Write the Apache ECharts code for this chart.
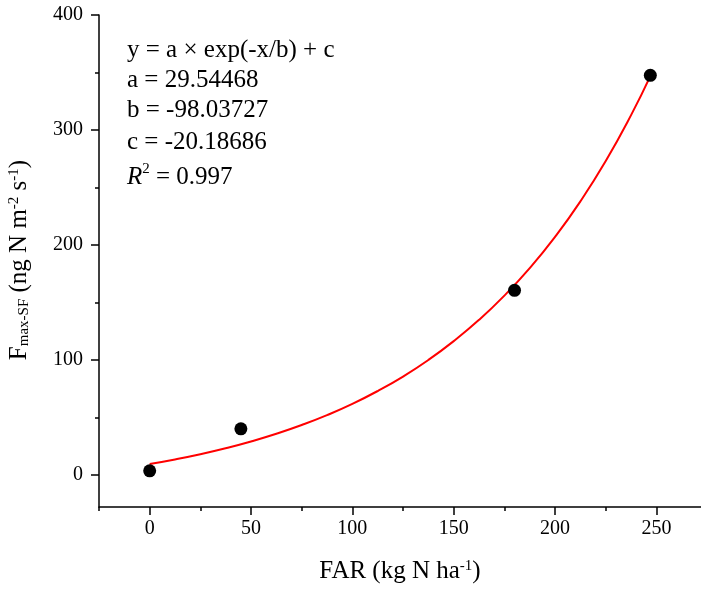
<!DOCTYPE html>
<html>
<head>
<meta charset="utf-8">
<script src="https://cdn.jsdelivr.net/npm/echarts@6/dist/echarts.min.js"></script>
<style>
  html, body { margin: 0; padding: 0; background: #fff; }
  #chart { width: 701px; height: 590px; }
</style>
</head>
<body>
<div id="chart"></div>
<script>
// tick positions
const xTicks = [0, 50, 100, 150, 200, 250];
const xMinorTicks = [-25, 25, 75, 125, 175, 225];
const yTicks = [0, 100, 200, 300, 400];
const yMinorTicks = [50, 150, 250, 350];

// measured points
const obsX = [0, 45, 180, 247];
const obsY = [3.5, 40, 160.5, 347.5];

// fitted curve
const fitX = [0, 12.5, 25, 37.5, 50, 62.5, 75, 87.5, 100, 112.5, 125, 137.5, 150,
  162.5, 175, 187.5, 200, 212.5, 225, 237.5, 247];
const fitY = [9.4, 13.4, 17.9, 23.1, 29.0, 35.7, 43.3, 51.9, 61.7, 72.9, 85.5, 99.9, 116.3,
  134.8, 155.9, 179.8, 207.0, 237.9, 273.0, 312.9, 346.8];

const FONT = "Liberation Serif";
const chart = echarts.init(document.getElementById("chart"));

const axisBase = {
  type: "value",
  axisLine: { onZero: false, lineStyle: { color: "#000", width: 1.5 } },
  splitLine: { show: false },
};
const supStyle = { fontFamily: FONT, fontSize: 15, color: "#000", fill: "#000", verticalAlign: "top" };
const subStyle = { fontFamily: FONT, fontSize: 15, color: "#000", fill: "#000", verticalAlign: "bottom" };

function note(text, y) {
  return {
    type: "text",
    x: 127,
    y: y,
    style: {
      text: text,
      font: "25px " + FONT,
      fill: "#000",
      verticalAlign: "middle",
      rich: {
        it: { fontFamily: FONT, fontSize: 25, fontStyle: "italic", fill: "#000", lineHeight: 30 },
        sup: supStyle,
      },
    },
  };
}

chart.setOption({
  animation: false,
  grid: { left: 99, right: 0, top: 15, bottom: 83, outerBoundsMode: "none" },
  xAxis: [
    {
      ...axisBase,
      min: -25,
      max: 272,
      axisTick: { customValues: xTicks, length: 8, lineStyle: { color: "#000", width: 1.5 } },
      axisLabel: { customValues: xTicks, color: "#000", fontFamily: FONT, fontSize: 20, margin: 12 },
      name: "FAR (kg N ha{sup|-1})",
      nameLocation: "middle",
      nameGap: 52,
      nameTextStyle: { color: "#000", fontFamily: FONT, fontSize: 25, rich: { sup: supStyle } },
    },
    {
      ...axisBase,
      min: -25,
      max: 272,
      position: "bottom",
      axisLine: { show: false, onZero: false },
      axisTick: { customValues: xMinorTicks, length: 4, lineStyle: { color: "#000", width: 1.5 } },
      axisLabel: { show: false },
    },
  ],
  yAxis: [
    {
      ...axisBase,
      min: -28,
      max: 400,
      axisTick: { customValues: yTicks, length: 8, lineStyle: { color: "#000", width: 1.5 } },
      axisLabel: { customValues: yTicks, color: "#000", fontFamily: FONT, fontSize: 20, margin: 16 },
    },
    {
      ...axisBase,
      min: -28,
      max: 400,
      position: "left",
      axisLine: { show: false, onZero: false },
      axisTick: { customValues: yMinorTicks, length: 4, lineStyle: { color: "#000", width: 1.5 } },
      axisLabel: { show: false },
    },
  ],
  graphic: [
    {
      type: "text",
      x: 19,
      y: 260,
      rotation: Math.PI / 2,
      style: {
        text: "F{sub|max-SF} (ng N m{sup|-2} s{sup|-1})",
        font: "25px " + FONT,
        fill: "#000",
        align: "center",
        verticalAlign: "middle",
        rich: { sub: subStyle, sup: supStyle },
      },
    },
    note("y = a × exp(-x/b) + c", 50),
    note("a = 29.54468", 80),
    note("b = -98.03727", 110),
    note("c = -20.18686", 142),
    note("{it|R}{sup|2} = 0.997", 177),
  ],
  series: [
    {
      type: "line",
      data: fitX.map((x, i) => [x, fitY[i]]),
      smooth: true,
      showSymbol: false,
      lineStyle: { color: "#ff0000", width: 2 },
      z: 2,
    },
    {
      type: "scatter",
      data: obsX.map((x, i) => [x, obsY[i]]),
      symbolSize: 13,
      itemStyle: { color: "#000", opacity: 1 },
      z: 3,
    },
  ],
});
</script>
</body>
</html>
